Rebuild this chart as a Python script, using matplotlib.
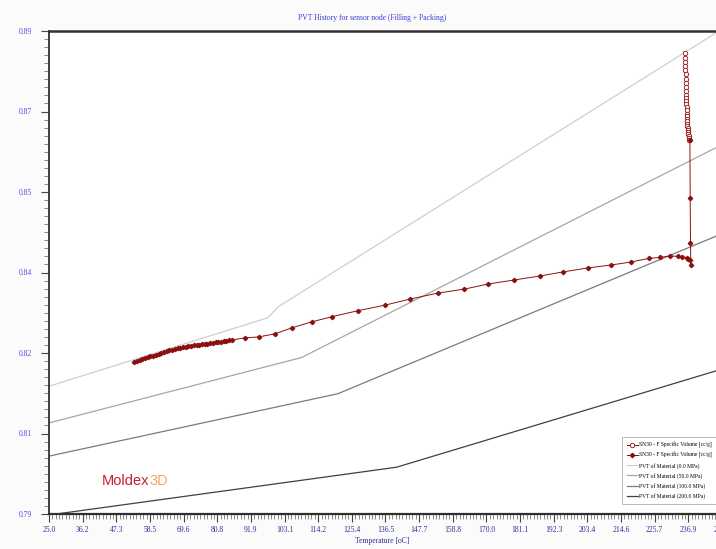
import numpy as np
import matplotlib.pyplot as plt
from matplotlib.ticker import AutoMinorLocator, FixedLocator, FixedFormatter

# Filling stage: sensor node temperature [oC] and specific volume [cc/g]
fill_temp = [235.8, 235.8, 235.9, 235.9, 235.9, 236.0, 236.0, 236.0, 236.1, 236.1,
             236.1, 236.2, 236.2, 236.2, 236.3, 236.3, 236.4, 236.4, 236.5, 236.5,
             236.6, 236.6, 236.7, 236.8, 236.8, 236.9, 237.0, 237.1, 237.2]
fill_vol = [0.8816, 0.8807, 0.8799, 0.8791, 0.8783, 0.8775, 0.8765, 0.8757, 0.8749, 0.8741,
            0.8733, 0.8727, 0.8721, 0.8715, 0.8709, 0.8703, 0.8696, 0.8692, 0.8686, 0.8682,
            0.8676, 0.8672, 0.8668, 0.8664, 0.8660, 0.8656, 0.8652, 0.8648, 0.8644]

# Packing stage
pack_temp = [237.4, 237.5, 237.6, 237.7, 237.5, 236.9, 236.5, 234.9, 233.3, 230.9,
             227.6, 223.8, 218.0, 211.4, 203.5, 195.2, 187.6, 179.0, 170.4, 162.7,
             153.8, 144.5, 136.3, 127.3, 118.7, 112.1, 105.5, 99.8, 94.5, 89.9,
             85.6, 84.7, 83.8, 82.9, 82.0, 81.1, 80.2, 79.3, 78.4, 77.5,
             76.6, 75.7, 74.8, 73.9, 73.0, 72.1, 71.2, 70.3, 69.4, 68.5,
             67.6, 66.7, 65.8, 64.9, 64.0, 63.1, 62.2, 61.3, 60.4, 59.5,
             58.6, 57.7, 56.8, 55.9, 55.0, 54.1, 53.2]
pack_vol = [0.8643, 0.8528, 0.8439, 0.8395, 0.8404, 0.8407, 0.8409, 0.8411, 0.8412, 0.8413,
            0.8410, 0.8408, 0.8401, 0.8395, 0.8389, 0.8381, 0.8373, 0.8365, 0.8357, 0.8347,
            0.8339, 0.8327, 0.8315, 0.8304, 0.8292, 0.8282, 0.8270, 0.8258, 0.8252, 0.8250,
            0.8246, 0.8245, 0.8244, 0.8243, 0.8242, 0.8241, 0.8241, 0.8240, 0.8239, 0.8238,
            0.8238, 0.8237, 0.8236, 0.8236, 0.8235, 0.8234, 0.8233, 0.8232, 0.8231, 0.8230,
            0.8229, 0.8228, 0.8226, 0.8225, 0.8223, 0.8222, 0.8220, 0.8218, 0.8217, 0.8215,
            0.8214, 0.8212, 0.8211, 0.8209, 0.8207, 0.8205, 0.8203]

# Material PVT curves (Tait), temperature / volume break points per pressure
pvt_labels = ['PVT of Material (0.0 MPa)', 'PVT of Material (50.0 MPa)',
              'PVT of Material (100.0 MPa)', 'PVT of Material (200.0 MPa)']
pvt_temp = [[25.0, 97.5, 101.0, 246.0],
            [25.0, 108.7, 248.0],
            [25.0, 120.7, 248.0],
            [25.0, 140.2, 248.0]]
pvt_vol = [[0.8154, 0.8290, 0.8312, 0.8856],
           [0.8081, 0.8211, 0.8634],
           [0.8015, 0.8139, 0.8457],
           [0.7898, 0.7993, 0.8188]]
pvt_colors = ['#cfcfcf', '#a6a6a6', '#7a7a7a', '#404040']

x_ticks = [25 + 11.152 * k for k in range(21)]
y_ticks = list(np.linspace(0.79, 0.886, 7))

serif = 'Liberation Serif'
red = '#8b1010'

fig = plt.figure(figsize=(7.16, 5.49), dpi=100, facecolor='#fbfbfb')
ax = fig.add_axes([49 / 716, 35 / 549, 673 / 716, 483 / 549])
ax.set_facecolor('white')

for t, v, c, lab in zip(pvt_temp, pvt_vol, pvt_colors, pvt_labels):
    ax.plot(t, v, color=c, lw=0.9, label=lab, zorder=2)

ax.plot(fill_temp, fill_vol, color=red, lw=0.7, marker='o', ms=3.2,
        mfc='white', mec=red, mew=0.6, label='SN30 - F Specific Volume [cc/g]', zorder=4)
ax.plot(pack_temp, pack_vol, color=red, lw=0.7, marker='D', ms=2.2,
        mfc=red, mec=red, label='SN30 - F Specific Volume [cc/g]', zorder=4)

ax.set_xlim(25, 248.04)
ax.set_ylim(0.79, 0.886)
ax.xaxis.set_major_locator(FixedLocator(x_ticks))
ax.xaxis.set_major_formatter(FixedFormatter(['%.1f' % x for x in x_ticks]))
ax.yaxis.set_major_locator(FixedLocator(y_ticks))
ax.yaxis.set_major_formatter(FixedFormatter(['%.2f' % y for y in y_ticks]))
ax.xaxis.set_minor_locator(AutoMinorLocator(10))
ax.yaxis.set_minor_locator(AutoMinorLocator(10))

ax.tick_params(axis='both', which='major', direction='out', length=6, width=0.8,
               color='#444444')
ax.tick_params(axis='both', which='minor', direction='out', length=3.5, width=0.6,
               color='#777777')
ax.tick_params(axis='y', labelcolor='#4a4aee', labelsize=5.5, pad=6)
ax.tick_params(axis='x', labelcolor='#2e2e99', labelsize=5.5, pad=2.5)
for lbl in ax.get_xticklabels() + ax.get_yticklabels():
    lbl.set_family(serif)

for side in ['left', 'bottom', 'top']:
    ax.spines[side].set_color('#303030')
ax.spines['left'].set_linewidth(1.3)
ax.spines['bottom'].set_linewidth(1.6)
ax.spines['top'].set_linewidth(1.8)
ax.spines['right'].set_visible(False)

fig.text(372 / 716, 1 - 18 / 549, 'PVT History for sensor node (Filling + Packing)',
         ha='center', va='center', family=serif, fontsize=5.5, color='#3a3ad6')
fig.text(382 / 716, 1 - 541 / 549, 'Temperature [oC]', ha='center', va='center',
         family=serif, fontsize=5.5, color='#2e2e99')

# Moldex3D mark in the lower left of the plot area
logo = ax.text(0.079, 0.068, 'Moldex', transform=ax.transAxes, family='Liberation Sans',
               fontsize=10.5, color='#c41e2e', va='center', ha='left')
fig.canvas.draw()
bb = logo.get_window_extent().transformed(ax.transAxes.inverted())
ax.text(bb.x1, 0.068, '3D', transform=ax.transAxes, family='Liberation Sans',
        fontsize=10.5, color='#f0a860', va='center', ha='left')

handles, labels = ax.get_legend_handles_labels()
order = [4, 5, 0, 1, 2, 3]
leg = fig.legend([handles[i] for i in order], [labels[i] for i in order],
                 loc='upper left', bbox_to_anchor=(622 / 716, 1 - 437 / 549),
                 bbox_transform=fig.transFigure, frameon=True, fancybox=False,
                 prop={'family': serif, 'size': 4.0}, handlelength=1.9,
                 handletextpad=0.3, labelspacing=0.75, borderpad=0.9,
                 borderaxespad=0)
leg.get_frame().set_edgecolor('#a8a8a8')
leg.get_frame().set_linewidth(0.7)

fig.savefig('out.png', dpi=100, facecolor=fig.get_facecolor())
